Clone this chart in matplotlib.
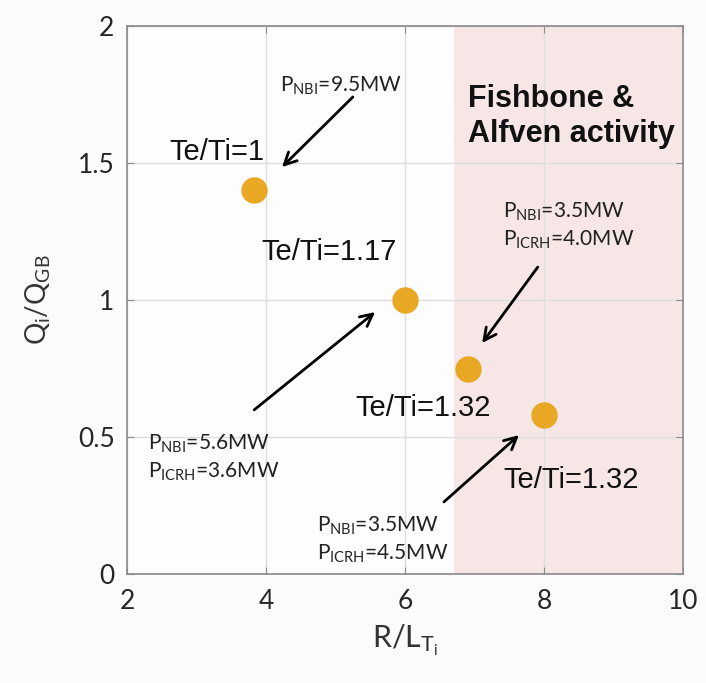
import matplotlib
matplotlib.use("Agg")
import matplotlib.pyplot as plt
from matplotlib import font_manager

plt.rcParams['mathtext.default'] = 'regular'

names = {f.name for f in font_manager.fontManager.ttflist}
narrow = 'Liberation Sans Narrow' if 'Liberation Sans Narrow' in names else 'Liberation Sans'
soft = 'Lato'

# data
rlt = [3.83, 6.0, 6.9, 8.0]
q_ratio = [1.40, 1.00, 0.75, 0.58]
te_ti_labels = ['Te/Ti=1', 'Te/Ti=1.17', 'Te/Ti=1.32', 'Te/Ti=1.32']
power_labels = [r'P$_{NBI}$=9.5MW',
                'P$_{NBI}$=5.6MW\nP$_{ICRH}$=3.6MW',
                'P$_{NBI}$=3.5MW\nP$_{ICRH}$=4.0MW',
                'P$_{NBI}$=3.5MW\nP$_{ICRH}$=4.5MW']
fishbone_start = 6.7
xticks = [2, 4, 6, 8, 10]
yticks = [0, 0.5, 1, 1.5, 2]
ytick_labels = ['0', '0.5', '1', '1.5', '2']

fig = plt.figure(figsize=(7.06, 6.83), dpi=100, facecolor='#fbfbfb')
ax = fig.add_axes([127/706, 1-574/683, (683-127)/706, (574-26)/683])
ax.set_facecolor('#fdfdfd')
ax.set_xlim(2, 10)
ax.set_ylim(0, 2)

ax.axvspan(fishbone_start, 10, color='#f6e6e6', zorder=0, lw=0)
ax.grid(True, color='#dedede', lw=1.0, zorder=1)
ax.set_axisbelow(True)

ax.plot(rlt, q_ratio, 'o', color='#e8a823', ms=18, mec='#e8a823', zorder=5, ls='none')

for s in ax.spines.values():
    s.set_color('#8a8a8a')
    s.set_linewidth(1.2)
ax.tick_params(direction='in', length=5, color='#8a8a8a', top=True, right=True,
               labelsize=19, labelcolor='#262626')
ax.tick_params(axis='x', pad=11)
ax.tick_params(axis='y', pad=9)
ax.set_xticks(xticks)
ax.set_yticks(yticks)
ax.set_yticklabels(ytick_labels)
for lab in ax.get_xticklabels() + ax.get_yticklabels():
    lab.set_fontfamily(soft)

# Te/Ti labels
te_pos = [(3.29, 1.54), (4.91, 1.175), (6.26, 0.606), (8.39, 0.343)]
for (x, y), t in zip(te_pos, te_ti_labels):
    ax.text(x, y, t, fontsize=21, family=narrow, ha='center', va='center',
            color='#111111', zorder=6)

# power annotations with arrows
arrows = [((5.25, 1.741), (4.23, 1.485)),
          ((3.83, 0.599), (5.57, 0.956)),
          ((7.91, 1.120), (7.11, 0.843)),
          ((6.56, 0.263), (7.64, 0.507))]
for (s, e) in arrows:
    ax.annotate('', xy=e, xytext=s,
                arrowprops=dict(arrowstyle='->', color='black', lw=2.0,
                                mutation_scale=22, shrinkA=0, shrinkB=0),
                zorder=6)

pow_pos = [(4.20, 1.78), (2.30, 0.423), (7.41, 1.27), (4.73, 0.124)]
for (x, y), t in zip(pow_pos, power_labels):
    ax.text(x, y, t, fontsize=15, family=soft, ha='left', va='center',
            color='#222222', linespacing=1.35, zorder=6)

ax.text(6.91, 1.67, 'Fishbone &\nAlfven activity', fontsize=22, family=narrow,
        fontweight='bold', ha='left', va='center', color='#111111',
        linespacing=1.25, zorder=6)

ax.set_xlabel(r'R/L$_{T_i}$', fontsize=22, family=soft, color='#333333', labelpad=6)
ax.set_ylabel(r'Q$_i$/Q$_{GB}$', fontsize=20, family=soft, color='#333333', labelpad=18)

fig.savefig('out.png', dpi=100, facecolor=fig.get_facecolor())
